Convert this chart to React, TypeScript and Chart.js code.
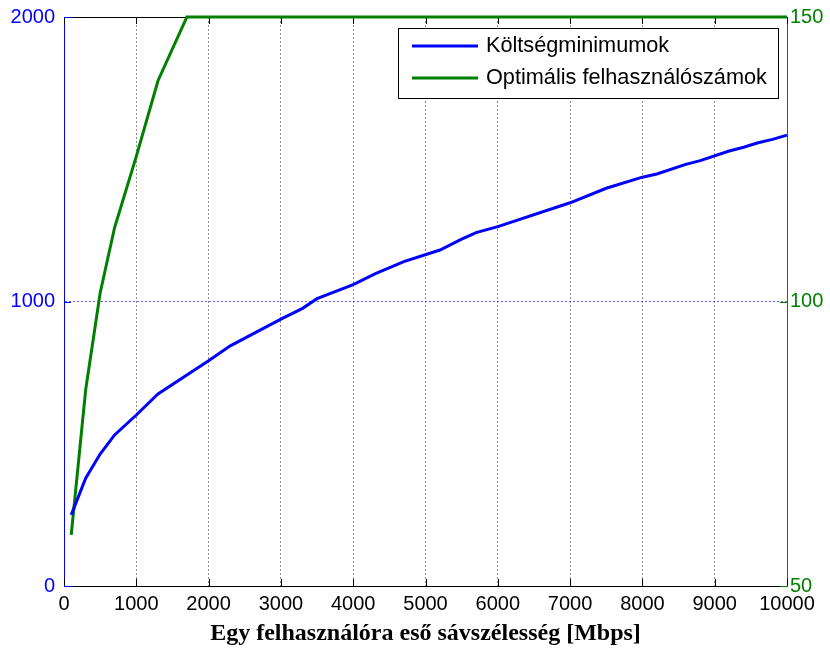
import React, { useEffect, useRef } from "react";
import { Chart, registerables } from "chart.js";
Chart.register(...registerables);

// Blue series: cost minima vs. bandwidth per user
const bandwidth = [100, 300, 500, 700, 1000, 1300, 2000, 2300, 3000, 3300, 3500, 4000, 4300, 4700, 5200, 5500, 5700, 6000, 7000, 7500, 8000, 8200, 8600, 8800, 9200, 9400, 9600, 9800, 10000];
const costMinima = [250, 379, 464, 531, 601, 675, 792, 844, 938, 976, 1010, 1059, 1097, 1140, 1181, 1219, 1242, 1263, 1347, 1398, 1437, 1448, 1482, 1495, 1529, 1542, 1558, 1570, 1585];

// Green series: optimal number of users vs. bandwidth per user
const userBandwidth = [100, 300, 500, 700, 1000, 1300, 1700, 10000];
const optimalUsers = [59, 84.5, 101.5, 113, 125.5, 138.8, 150, 150];

const xTicks = [0, 1000, 2000, 3000, 4000, 5000, 6000, 7000, 8000, 9000, 10000];
const leftTicks = [0, 1000, 2000];
const rightTicks = [50, 100, 150];

const seriesLabels = ["Költségminimumok", "Optimális felhasználószámok"];
const xTitle = "Egy felhasználóra eső sávszélesség [Mbps]";

const BLUE = "#0000ff";
const GREEN = "#008000";
const SANS = "'Liberation Sans', Arial, sans-serif";
const SERIF = "'Liberation Serif', 'Times New Roman', serif";

const plain = (v: any) => String(v);

const innerTicks = {
  id: "innerTicks",
  beforeDatasetsDraw(chart: any) {
    const { ctx, chartArea, scales } = chart;
    const { left, right, top, bottom } = chartArea;
    ctx.save();
    ctx.lineWidth = 1;
    // top border
    ctx.strokeStyle = "#000";
    ctx.beginPath();
    ctx.moveTo(left, top + 0.5);
    ctx.lineTo(right, top + 0.5);
    ctx.stroke();
    // x ticks inside (bottom and top)
    for (const v of xTicks) {
      const px = Math.round(scales.x.getPixelForValue(v)) + 0.5;
      ctx.beginPath();
      ctx.moveTo(px, bottom);
      ctx.lineTo(px, bottom - 7);
      ctx.moveTo(px, top);
      ctx.lineTo(px, top + 7);
      ctx.stroke();
    }
    ctx.strokeStyle = BLUE;
    for (const v of leftTicks) {
      const py = Math.round(scales.y.getPixelForValue(v)) + 0.5;
      ctx.beginPath();
      ctx.moveTo(left, py);
      ctx.lineTo(left + 7, py);
      ctx.stroke();
    }
    ctx.strokeStyle = GREEN;
    for (const v of rightTicks) {
      const py = Math.round(scales.y1.getPixelForValue(v)) + 0.5;
      ctx.beginPath();
      ctx.moveTo(right, py);
      ctx.lineTo(right - 7, py);
      ctx.stroke();
    }
    ctx.restore();
  },
};

const boxLegend = {
  id: "boxLegend",
  afterDraw(chart: any) {
    const { ctx } = chart;
    const x = 398.5, y = 28.5, w = 380, h = 70;
    ctx.save();
    ctx.fillStyle = "#fff";
    ctx.strokeStyle = "#000";
    ctx.lineWidth = 1;
    ctx.fillRect(x, y, w, h);
    ctx.strokeRect(x, y, w, h);
    chart.data.datasets.forEach((ds: any, i: number) => {
      const ly = 46 + i * 32;
      ctx.strokeStyle = ds.borderColor;
      ctx.lineWidth = 3;
      ctx.beginPath();
      ctx.moveTo(412, ly);
      ctx.lineTo(478, ly);
      ctx.stroke();
      ctx.fillStyle = "#000";
      ctx.font = `21.7px ${SANS}`;
      ctx.textBaseline = "middle";
      ctx.textAlign = "left";
      ctx.fillText(ds.label, 486, ly);
    });
    ctx.restore();
  },
};

const noVPad = (s: any, w: number) => {
  s.width = w;
  s.paddingTop = 0;
  s.paddingBottom = 0;
};

export default function App() {
  const ref = useRef<HTMLCanvasElement | null>(null);
  useEffect(() => {
    if (!ref.current) return;
    const chart = new Chart(ref.current, {
      type: "line",
      data: {
        datasets: [
          {
            label: seriesLabels[0],
            data: bandwidth.map((b, i) => ({ x: b, y: costMinima[i] })),
            borderColor: BLUE,
            backgroundColor: BLUE,
            borderWidth: 3,
            pointRadius: 0,
            tension: 0,
            yAxisID: "y",
            clip: 5,
          },
          {
            label: seriesLabels[1],
            data: userBandwidth.map((b, i) => ({ x: b, y: optimalUsers[i] })),
            borderColor: GREEN,
            backgroundColor: GREEN,
            borderWidth: 3,
            pointRadius: 0,
            tension: 0,
            yAxisID: "y1",
            clip: 5,
          },
        ],
      },
      options: {
        animation: false,
        responsive: false,
        devicePixelRatio: 1,
        layout: { padding: { top: 17, left: 0, right: 0, bottom: 0 } },
        plugins: { legend: { display: false }, tooltip: { enabled: false } },
        scales: {
          x: {
            type: "linear",
            min: 0,
            max: 10000,
            afterBuildTicks: (s: any) => { s.ticks = xTicks.map((v) => ({ value: v })); },
            afterFit: (s: any) => { s.height = 64; s.paddingLeft = 0; s.paddingRight = 0; },
            ticks: { color: "#000", font: { family: SANS, size: 20 }, padding: 6, maxRotation: 0, autoSkip: false, callback: plain },
            grid: {
              drawTicks: false,
              lineWidth: 1,
              color: (c: any) => (c.tick && (c.tick.value === 0 || c.tick.value === 10000) ? "rgba(0,0,0,0)" : "#8c8c8c"),
            },
            border: { color: "#000", width: 1, dash: [2, 2] },
            title: { display: true, text: xTitle, color: "#000", font: { family: SERIF, size: 24, weight: "bold" }, padding: { top: 0, bottom: 2 } },
          },
          y: {
            type: "linear",
            position: "left",
            min: 0,
            max: 2000,
            afterBuildTicks: (s: any) => { s.ticks = leftTicks.map((v) => ({ value: v })); },
            afterFit: (s: any) => noVPad(s, 64),
            ticks: { color: BLUE, font: { family: SANS, size: 20 }, padding: 9, callback: plain },
            grid: {
              drawTicks: false,
              lineWidth: 1,
              color: (c: any) => (c.tick && c.tick.value === 1000 ? "#5a5aff" : "rgba(0,0,0,0)"),
            },
            border: { color: BLUE, width: 1, dash: [2, 2] },
          },
          y1: {
            type: "linear",
            position: "right",
            min: 50,
            max: 150,
            afterBuildTicks: (s: any) => { s.ticks = rightTicks.map((v) => ({ value: v })); },
            afterFit: (s: any) => noVPad(s, 43),
            ticks: { color: GREEN, font: { family: SANS, size: 20 }, padding: 3, callback: plain },
            grid: { display: false, drawTicks: false },
            border: { color: "#205a8a", width: 1 },
          },
        },
      },
      plugins: [innerTicks, boxLegend],
    } as any);
    return () => chart.destroy();
  }, []);
  return (
    <div style={{ position: "absolute", left: 0, top: 0, width: 830, height: 650, background: "#fff" }}>
      <canvas ref={ref} width={830} height={650} style={{ display: "block" }} />
    </div>
  );
}
